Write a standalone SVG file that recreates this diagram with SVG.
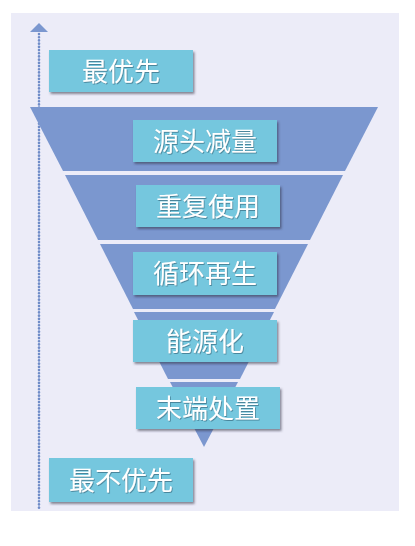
<svg xmlns="http://www.w3.org/2000/svg" width="415" height="546" viewBox="0 0 415 546">
<style>
.box{fill:#74C7DE;filter:url(#sh);}
.seg{fill:#7B97CF;}
.lbl{font-family:"Noto Sans CJK SC","Noto Sans",sans-serif;font-size:26px;fill:#FFFFFF;text-anchor:middle;filter:url(#tsh);}
.dot{stroke:#6F8CC8;stroke-width:2.6;stroke-linecap:round;stroke-dasharray:0.1 3.1;fill:none;}
</style>
<defs>
<filter id="sh" x="-10%" y="-20%" width="125%" height="150%">
<feDropShadow dx="1.5" dy="2" stdDeviation="1.2" flood-color="#333344" flood-opacity="0.55"/>
</filter>
<filter id="tsh" x="-10%" y="-20%" width="120%" height="150%">
<feDropShadow dx="0.8" dy="1" stdDeviation="0.6" flood-color="#2a5a70" flood-opacity="0.6"/>
</filter>
</defs>
<rect x="0" y="0" width="415" height="546" fill="#FFFFFF"/>
<rect x="11" y="13" width="388" height="498" fill="#ECECF8"/>
<g id="connectors">
<line class="dot" x1="39" y1="34" x2="39" y2="510"/>
<polygon points="30,32 48,32 39,23" fill="#7B97CF"/>
</g>
<g id="funnel">
<polygon class="seg" points="30,107 378,107 345,171 63,171"/>
<polygon class="seg" points="65,175 343,175 310,240 98,240"/>
<polygon class="seg" points="100,244 308,244 275,309 133,309"/>
<polygon class="seg" points="134,312 274,312 240,379 168,379"/>
<polygon class="seg" points="170,382 238,382 204,447"/>
</g>
<g id="top">
<rect class="box" x="49" y="50" width="144" height="42"/>
<text class="lbl" x="121" y="80.5">最优先</text>
</g>
<g id="n1">
<rect class="box" x="133" y="120" width="144" height="42"/>
<text class="lbl" x="205" y="150.5">源头减量</text>
</g>
<g id="n2">
<rect class="box" x="136" y="185" width="144" height="42"/>
<text class="lbl" x="208" y="215.5">重复使用</text>
</g>
<g id="n3">
<rect class="box" x="133" y="252" width="144" height="43"/>
<text class="lbl" x="205" y="283">循环再生</text>
</g>
<g id="n4">
<rect class="box" x="133" y="320" width="144" height="42"/>
<text class="lbl" x="205" y="350.5">能源化</text>
</g>
<g id="n5">
<rect class="box" x="136" y="387" width="144" height="42"/>
<text class="lbl" x="208" y="417.5">末端处置</text>
</g>
<g id="bottom">
<rect class="box" x="49" y="458" width="144" height="44"/>
<text class="lbl" x="121" y="489.5">最不优先</text>
</g>
</svg>
